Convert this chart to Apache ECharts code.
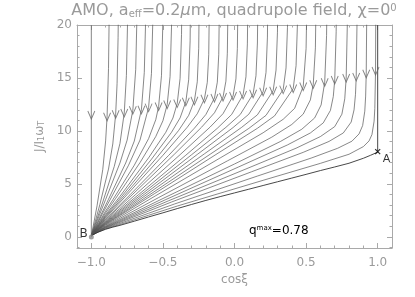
<!DOCTYPE html>
<html><head><meta charset="utf-8">
<script src="https://cdn.jsdelivr.net/npm/echarts@6/dist/echarts.min.js"></script>
<style>html,body{margin:0;padding:0;background:#fff}#c{width:415px;height:297px}</style>
</head><body><div id="c"></div>
<script>
// ---------- data ----------
const xMajorTicks = [-1.0, -0.5, 0.0, 0.5, 1.0];
const xMinorTicks = [-1.0,-0.9,-0.8,-0.7,-0.6,-0.5,-0.4,-0.3,-0.2,-0.1,0,0.1,0.2,0.3,0.4,0.5,0.6,0.7,0.8,0.9,1.0];
const yMajorTicks = [0, 5, 10, 15, 20];
const yMinorTicks = [-1,1,2,3,4,6,7,8,9,11,12,13,14,16,17,18,19];

const arrowX = [-1.0,-0.89,-0.83,-0.77,-0.71,-0.65,-0.60,-0.53,-0.47,-0.40,-0.34,-0.28,-0.21,-0.14,-0.08,-0.01,0.06,0.13,0.20,0.27,0.34,0.41,0.48,0.55,0.63,0.70,0.78,0.85,0.92,0.985];
const arrowY = [11.5,11.33,11.58,11.7,11.96,12.0,12.2,12.3,12.5,12.6,12.75,12.84,13.03,13.1,13.2,13.3,13.4,13.5,13.7,13.8,13.9,14.0,14.2,14.4,14.6,14.8,15.0,15.1,15.4,15.65];

const traj01 = [[-1,20],[-1,0.1]];
const traj02 = [[-1,0.1],[-0.98,1.49],[-0.96,2.93],[-0.92,6.37],[-0.9,9.06],[-0.89,11.33],[-0.88,15.89],[-0.875,21.1]];
const traj03 = [[-1,0.1],[-0.97,1.58],[-0.94,3.07],[-0.88,6.4],[-0.85,8.77],[-0.83,11.58],[-0.82,14.48],[-0.813,18.8],[-0.81,22.4]];
const traj04 = [[-1,0.1],[-0.97,1.31],[-0.92,3.29],[-0.84,6.64],[-0.8,8.82],[-0.77,11.7],[-0.755,15.23],[-0.747,20.17],[-0.744,24.2]];
const traj05 = [[-1,0.1],[-0.97,1.16],[-0.94,2.18],[-0.9,3.53],[-0.8,6.98],[-0.75,9.13],[-0.71,11.96],[-0.69,15.81],[-0.682,20.4],[-0.679,24]];
const traj06 = [[-1,0.1],[-0.97,1.01],[-0.93,2.16],[-0.88,3.55],[-0.76,6.97],[-0.7,9.04],[-0.65,12.0],[-0.63,15.52],[-0.622,19.72],[-0.619,23.1]];
const traj07 = [[-1,0.1],[-0.97,0.93],[-0.92,2.24],[-0.87,3.48],[-0.74,6.76],[-0.66,9.14],[-0.6,12.2],[-0.58,15.43],[-0.571,20.13],[-0.568,23.95]];
const traj08 = [[-1,0.1],[-0.97,0.84],[-0.9,2.44],[-0.85,3.5],[-0.7,6.76],[-0.6,9.27],[-0.55,11.06],[-0.53,12.3],[-0.51,15.21],[-0.5,20.41],[-0.497,24.8]];
const traj09 = [[-1,0.1],[-0.97,0.79],[-0.9,2.26],[-0.83,3.63],[-0.66,7.01],[-0.55,9.47],[-0.5,10.96],[-0.47,12.5],[-0.45,15.13],[-0.44,19.8],[-0.4365,24.7]];
const traj10 = [[-1,0.1],[-0.97,0.74],[-0.9,2.09],[-0.8,3.83],[-0.6,7.46],[-0.48,9.87],[-0.43,11.22],[-0.4,12.6],[-0.38,14.95],[-0.37,19.12],[-0.3655,25.7]];
const traj11 = [[-1,0.1],[-0.97,0.71],[-0.9,1.98],[-0.79,3.78],[-0.58,7.33],[-0.44,9.87],[-0.38,11.23],[-0.34,12.75],[-0.32,14.83],[-0.31,18.5],[-0.305,25.6]];
const traj12 = [[-1,0.1],[-0.97,0.68],[-0.9,1.88],[-0.77,3.89],[-0.54,7.52],[-0.39,10.05],[-0.32,11.47],[-0.28,12.84],[-0.26,14.64],[-0.25,17.8],[-0.245,23.87]];
const traj13 = [[-1,0.1],[-0.97,0.65],[-0.9,1.79],[-0.75,3.99],[-0.5,7.7],[-0.33,10.35],[-0.26,11.62],[-0.21,13.03],[-0.19,14.58],[-0.18,17.2],[-0.175,22.3]];
const traj14 = [[-1,0.1],[-0.97,0.62],[-0.9,1.68],[-0.73,3.97],[-0.46,7.69],[-0.28,10.26],[-0.2,11.55],[-0.14,13.1],[-0.12,14.6],[-0.11,17.23],[-0.105,22.3]];
const traj15 = [[-1,0.1],[-0.97,0.6],[-0.9,1.61],[-0.71,4.03],[-0.42,7.8],[-0.23,10.35],[-0.14,11.71],[-0.08,13.2],[-0.06,14.7],[-0.05,17.33],[-0.045,22.4]];
const traj16 = [[-1,0.1],[-0.97,0.57],[-0.9,1.52],[-0.8,2.69],[-0.69,4.01],[-0.38,7.76],[-0.17,10.37],[-0.08,11.63],[-0.01,13.3],[0.01,14.92],[0.02,17.78],[0.025,23.3]];
const traj17 = [[-1,0.1],[-0.97,0.55],[-0.9,1.44],[-0.8,2.54],[-0.67,3.99],[-0.34,7.71],[-0.12,10.25],[-0.02,11.55],[0.06,13.4],[0.08,15.11],[0.09,18.22],[0.095,24.3]];
const traj18 = [[-1,0.1],[-0.97,0.53],[-0.9,1.38],[-0.8,2.42],[-0.65,4.01],[-0.3,7.75],[-0.06,10.34],[0.04,11.55],[0.13,13.5],[0.15,15.21],[0.16,18.3],[0.165,24.4]];
const traj19 = [[-1,0.1],[-0.97,0.51],[-0.9,1.33],[-0.8,2.31],[-0.63,4.02],[-0.26,7.78],[-0.01,10.32],[0.1,11.58],[0.2,13.7],[0.22,15.52],[0.23,18.86],[0.235,25.4]];
const traj20 = [[-1,0.1],[-0.97,0.5],[-0.9,1.28],[-0.8,2.2],[-0.61,4.02],[-0.21,7.84],[0.05,10.34],[0.16,11.52],[0.27,13.8],[0.29,15.74],[0.3,19.32],[0.305,26.4]];
const traj21 = [[-1,0.1],[-0.97,0.48],[-0.9,1.23],[-0.8,2.1],[-0.59,4.0],[-0.17,7.8],[0.1,10.24],[0.22,11.47],[0.34,13.9],[0.36,15.95],[0.37,19.79],[0.374,24.8]];
const traj22 = [[-1,0.1],[-0.97,0.47],[-0.9,1.18],[-0.8,2.02],[-0.56,4.07],[-0.13,7.77],[0.16,10.25],[0.28,11.42],[0.41,14.0],[0.43,16.16],[0.44,20.24],[0.444,25.6]];
const traj23 = [[-1,0.1],[-0.97,0.45],[-0.9,1.12],[-0.8,1.89],[-0.55,3.89],[-0.1,7.45],[0.2,9.83],[0.34,11.1],[0.42,12.13],[0.48,14.2],[0.5,17.78],[0.507,23.1]];
const traj24 = [[-1,0.1],[-0.97,0.43],[-0.9,1.05],[-0.8,1.75],[-0.53,3.71],[-0.05,7.17],[0.26,9.41],[0.4,10.61],[0.48,11.59],[0.53,12.93],[0.55,14.4],[0.565,17.84],[0.573,25.5]];
const traj25 = [[-1,0.1],[-0.97,0.41],[-0.9,0.99],[-0.8,1.63],[-0.5,3.62],[0,6.88],[0.32,9.0],[0.47,10.16],[0.56,11.23],[0.605,12.46],[0.63,14.6],[0.643,19.0],[0.648,25]];
const traj26 = [[-1,0.1],[-0.97,0.4],[-0.9,0.94],[-0.8,1.54],[-0.48,3.52],[0.03,6.61],[0.37,8.68],[0.53,9.81],[0.62,10.76],[0.67,11.94],[0.69,13.25],[0.7,14.8],[0.71,19.36],[0.714,25.4]];
const traj27 = [[-1,0.1],[-0.97,0.38],[-0.9,0.9],[-0.8,1.45],[-0.46,3.41],[0.08,6.41],[0.43,8.37],[0.6,9.47],[0.7,10.41],[0.75,11.58],[0.77,13.03],[0.78,15.0],[0.788,20.04],[0.791,26]];
const traj28 = [[-1,0.1],[-0.97,0.37],[-0.9,0.86],[-0.8,1.37],[-0.44,3.29],[0.12,6.15],[0.48,7.98],[0.66,9.01],[0.76,9.81],[0.815,10.84],[0.835,11.99],[0.845,13.46],[0.85,15.1],[0.856,20.54],[0.858,26]];
const traj29 = [[-1,0.1],[-0.97,0.36],[-0.9,0.81],[-0.8,1.27],[-0.6,2.23],[-0.42,3.1],[0.16,5.74],[0.54,7.46],[0.72,8.36],[0.82,9.03],[0.87,9.72],[0.895,10.51],[0.91,11.87],[0.916,13.29],[0.92,15.4],[0.924,21.67]];
const traj30 = [[-1,0.1],[-0.97,0.34],[-0.9,0.76],[-0.8,1.17],[-0.6,2.04],[-0.4,2.91],[0.2,5.34],[0.6,6.94],[0.8,7.8],[0.9,8.52],[0.94,9.06],[0.96,9.66],[0.975,10.92],[0.98,12.12],[0.985,15.65],[0.988,26.2]];
const pathA = [[1,20],[1,8.0],[0.95,7.7],[0.9,7.42],[0.8,6.95],[0.7,6.6],[0.6,6.26],[0.5,5.9],[0.4,5.55],[0.3,5.2],[0.2,4.85],[0.1,4.5],[0,4.15],[-0.1,3.8],[-0.2,3.44],[-0.3,3.06],[-0.4,2.67],[-0.5,2.27],[-0.6,1.88],[-0.7,1.48],[-0.8,1.09],[-0.85,0.92],[-0.9,0.72],[-0.95,0.46],[-0.98,0.27],[-1,0.1]];
const pointA = [1.0, 8.05];
const pointB = [-1.0, 0.0];

// ---------- chart ----------
const FONT = 'DejaVu Sans';
const axisGray = '#a9a9a9';
const textGray = '#9a9a9a';
const curves = [traj02,traj03,traj04,traj05,traj06,traj07,traj08,traj09,traj10,traj11,traj12,traj13,traj14,traj15,traj16,traj17,traj18,traj19,traj20,traj21,traj22,traj23,traj24,traj25,traj26,traj27,traj28,traj29,traj30];

const series = [];
series.push({type:'line', data:traj01, symbol:'none', smooth:false, lineStyle:{color:'#666', width:0.8}, silent:true});
curves.forEach(d => series.push({type:'line', data:d, symbol:'none', smooth:false, lineStyle:{color:'#555', width:0.7}, silent:true}));
series.push({type:'line', data:pathA, symbol:'none', smooth:false, lineStyle:{color:'#333', width:0.9}, silent:true});
series.push({type:'scatter', data:arrowX.map((x,i)=>[x, arrowY[i]]), symbol:'path://M0,0L5,9L10,0', symbolSize:[7,8],
  itemStyle:{color:'transparent', borderColor:'#666', borderWidth:1}, silent:true, z:3});
series.push({type:'scatter', data:[pointB], symbol:'circle', symbolSize:5, itemStyle:{color:'#888'}, silent:true, z:4,
  label:{show:true, formatter:'B', position:'left', distance:2, offset:[1,-3], color:'#000', fontSize:12, fontFamily:FONT}});
series.push({type:'scatter', data:[pointA], symbol:'path://M0,0L10,10M10,0L0,10', symbolSize:5,
  itemStyle:{color:'transparent', borderColor:'#000', borderWidth:1.2}, silent:true, z:4,
  label:{show:true, formatter:'A', position:'right', distance:2, offset:[0,8], color:'#000', fontSize:11, fontFamily:FONT}});

function xAx(pos, ticks, len, showLine, showLabel, extra) {
  return Object.assign({type:'value', min:-1.1, max:1.1, position:pos,
    axisLine:{show:showLine, onZero:false, lineStyle:{color:axisGray, width:1}},
    axisTick:{show:true, inside:true, length:len, customValues:ticks, lineStyle:{color:axisGray, width:1}},
    axisLabel:{show:showLabel, customValues:ticks, color:textGray, fontSize:12, fontFamily:FONT, margin:9,
      formatter: v => (v < 0 ? '\u2212' : '') + Math.abs(v).toFixed(1)},
    splitLine:{show:false}}, extra || {});
}
function yAx(pos, ticks, len, showLine, showLabel, extra) {
  return Object.assign({type:'value', min:-1.05, max:20, position:pos,
    axisLine:{show:showLine, onZero:false, lineStyle:{color:axisGray, width:1}},
    axisTick:{show:true, inside:true, length:len, customValues:ticks, lineStyle:{color:axisGray, width:1}},
    axisLabel:{show:showLabel, customValues:ticks, color:textGray, fontSize:12, fontFamily:FONT, margin:5,
      formatter: v => String(v)},
    splitLine:{show:false}}, extra || {});
}

const option = {
  animation:false,
  backgroundColor:'#fff',
  grid:{left:77, right:23, top:25, bottom:49, containLabel:false},
  xAxis:[
    xAx('bottom', xMajorTicks, 5, true, true, {name:'cos\u03BE', nameLocation:'middle', nameGap:25,
      nameTextStyle:{color:textGray, fontSize:12, fontFamily:FONT}}),
    xAx('bottom', xMinorTicks, 2.5, false, false),
    xAx('top', xMajorTicks, 5, true, false),
    xAx('top', xMinorTicks, 2.5, false, false)
  ],
  yAxis:[
    yAx('left', yMajorTicks, 5, true, true, {name:'J/I{s|1}\u03C9{s|T}', nameLocation:'middle', nameRotate:90, nameGap:30,
      nameTextStyle:{color:textGray, fontSize:12, fontFamily:FONT,
        rich:{s:{fontSize:8, color:textGray, fontFamily:FONT, verticalAlign:'bottom', lineHeight:8}}}}),
    yAx('left', yMinorTicks, 2.5, false, false),
    yAx('right', yMajorTicks, 5, true, false),
    yAx('right', yMinorTicks, 2.5, false, false)
  ],
  series: series.map(s => Object.assign({xAxisIndex:0, yAxisIndex:0}, s)),
  graphic:[
    {type:'text', style:{
      text:'AMO, a{sub|eff}=0.2{it|\u03BC}m, quadrupole field, \u03C7=0{sup|0}',
      x:234, y:11, align:'center', verticalAlign:'middle',
      font:'16px "DejaVu Sans"', fill:textGray,
      rich:{
        sub:{fontSize:10, fontFamily:FONT, fill:textGray, verticalAlign:'bottom', lineHeight:10},
        it:{fontSize:16, fontFamily:FONT, fontStyle:'italic', fill:textGray},
        sup:{fontSize:10, fontFamily:FONT, fill:textGray, verticalAlign:'top', lineHeight:10}
      }}, z:10},
    {type:'text', style:{
      text:'q{sup|max}=0.78', x:249, y:237, align:'left', verticalAlign:'bottom',
      font:'12px "DejaVu Sans"', fill:'#000',
      rich:{sup:{fontSize:7, fontFamily:FONT, fill:'#000', verticalAlign:'top', lineHeight:7}}}, z:10}
  ]
};
const chart = echarts.init(document.getElementById('c'));
chart.setOption(option);
</script>
</body></html>
